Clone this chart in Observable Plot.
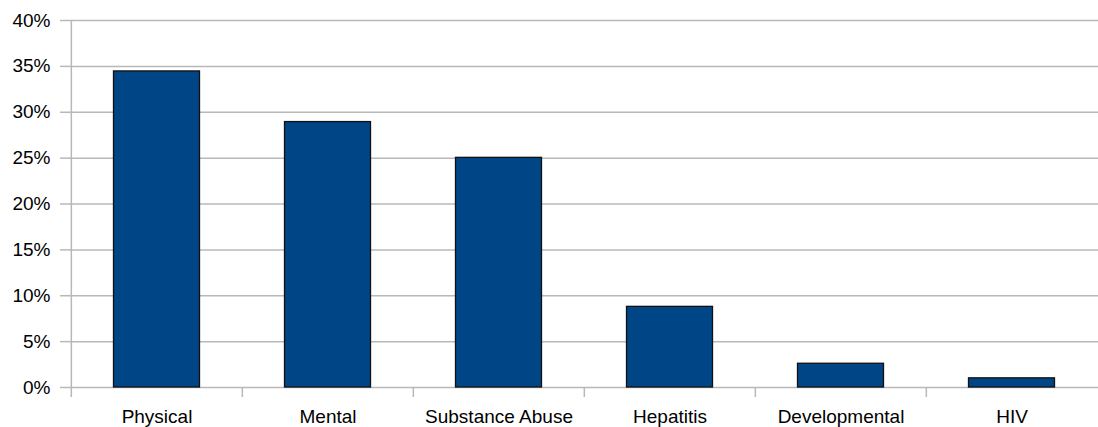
<!DOCTYPE html>
<html>
<head>
<meta charset="utf-8">
<script src="https://cdn.jsdelivr.net/npm/d3@7"></script>
<script src="https://cdn.jsdelivr.net/npm/@observablehq/plot@0.6"></script>
<style>
  html, body { margin: 0; padding: 0; background: #fff; }
  #chart { width: 1098px; height: 427px; }
</style>
</head>
<body>
<div id="chart"></div>
<script>
const categories = ["Physical", "Mental", "Substance Abuse", "Hepatitis", "Developmental", "HIV"];
const shares = [0.3445, 0.2893, 0.2503, 0.0879, 0.0259, 0.0100];
const yTicks = [0, 0.05, 0.10, 0.15, 0.20, 0.25, 0.30, 0.35, 0.40];

const data = categories.map((c, i) => ({category: c, share: shares[i]}));

const W = 1098, H = 427, ML = 70, MR = 0, MT = 20, MB = 40;
const bw = (W - ML - MR) / categories.length;
const gridColor = "#b8b8b8";

const chart = Plot.plot({
  width: W,
  height: H,
  marginLeft: ML,
  marginRight: MR,
  marginTop: MT,
  marginBottom: MB,
  style: {fontFamily: "'Liberation Sans', Arial, sans-serif", fontSize: "19px", color: "#000", background: "#fff"},
  x: {domain: categories, padding: 0, label: null, axis: null},
  y: {domain: [0, 0.4], label: null, axis: null},
  marks: [
    Plot.gridY(yTicks, {stroke: gridColor, strokeOpacity: 1, strokeWidth: 1.5}),
    Plot.axisY({ticks: yTicks, tickSize: 10, tickPadding: 10, stroke: gridColor, strokeWidth: 1.5, fill: "#000",
                tickFormat: d => Math.round(d * 100) + "%", label: null}),
    Plot.ruleX([categories[0]], {x: d => d, y1: 0, y2: 0.4, dx: -bw / 2, stroke: gridColor, strokeWidth: 1.5}),
    Plot.axisX({ticks: categories, tickSize: 10, tickFormat: () => "", dx: -bw / 2, stroke: gridColor, strokeWidth: 1.5, label: null}),
    Plot.axisX({ticks: categories, tickSize: 0, tickPadding: 22, fill: "#000", label: null}),
    Plot.barY(data, {x: "category", y: "share", fill: "#004586", stroke: "#111", strokeWidth: 1.3,
                     insetLeft: 42.5, insetRight: 42.5})
  ]
});
document.getElementById("chart").appendChild(chart);
</script>
</body>
</html>
